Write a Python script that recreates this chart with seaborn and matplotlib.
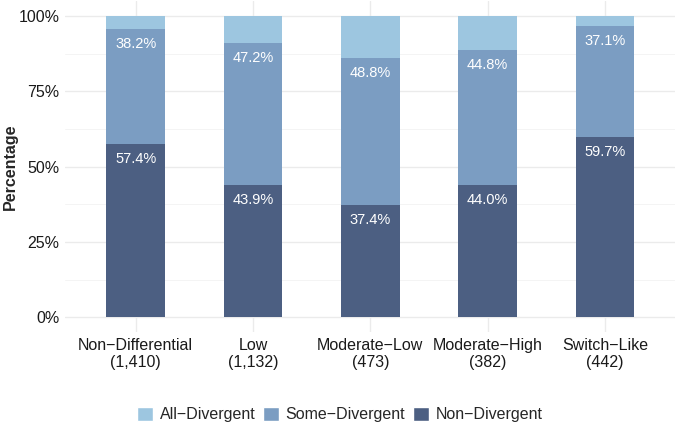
import pandas as pd
import numpy as np
import matplotlib
matplotlib.use("Agg")
import matplotlib.pyplot as plt
import seaborn as sns
from matplotlib.patches import Patch
from matplotlib.ticker import MultipleLocator, FuncFormatter

# Data
categories = ["Non\u2212Differential\n(1,410)", "Low\n(1,132)", "Moderate\u2212Low\n(473)",
              "Moderate\u2212High\n(382)", "Switch\u2212Like\n(442)"]
non_divergent = [57.4, 43.9, 37.4, 44.0, 59.7]
some_divergent = [38.2, 47.2, 48.8, 44.8, 37.1]
all_divergent = [4.4, 8.9, 13.8, 11.2, 3.2]

colors = {"All\u2212Divergent": "#9DC6E0",
          "Some\u2212Divergent": "#7B9DC2",
          "Non\u2212Divergent": "#4C5F82"}

df = pd.DataFrame({"category": categories,
                   "non": non_divergent,
                   "some": some_divergent,
                   "all": all_divergent})
df["cum_some"] = df["non"] + df["some"]
df["cum_all"] = df["cum_some"] + df["all"]

sns.set_style("whitegrid")
plt.rcParams["font.family"] = ["Liberation Sans", "DejaVu Sans"]

fig = plt.figure(figsize=(6.8, 4.25), dpi=100)
ax = fig.add_axes([0.096, 0.218, 0.897, 0.78])

# layered bars (tallest first)
sns.barplot(data=df, x="category", y="cum_all", color=colors["All\u2212Divergent"],
            width=0.5, ax=ax, saturation=1, edgecolor="none")
sns.barplot(data=df, x="category", y="cum_some", color=colors["Some\u2212Divergent"],
            width=0.5, ax=ax, saturation=1, edgecolor="none")
sns.barplot(data=df, x="category", y="non", color=colors["Non\u2212Divergent"],
            width=0.5, ax=ax, saturation=1, edgecolor="none")

# labels near the top of each segment
for i, row in df.iterrows():
    ax.text(i, row["non"] - 5, f"{row['non']:.1f}%", ha="center", va="center",
            color="white", fontsize=10.5)
    ax.text(i, row["cum_some"] - 5, f"{row['some']:.1f}%", ha="center", va="center",
            color="white", fontsize=10.5)

ax.set_xlim(-0.6, 4.6)
ax.set_ylim(-5, 105)
ax.yaxis.set_major_locator(MultipleLocator(25))
ax.yaxis.set_minor_locator(MultipleLocator(12.5))
ax.yaxis.set_major_formatter(FuncFormatter(lambda v, p: f"{v:.0f}%"))
ax.set_axisbelow(True)
ax.grid(True, which="major", color="#EBEBEB", linewidth=1.0)
ax.grid(True, which="minor", axis="y", color="#F2F2F2", linewidth=0.6)
for s in ax.spines.values():
    s.set_visible(False)
ax.tick_params(axis="both", which="both", length=0, labelsize=11.5, colors="#1A1A1A", pad=4)
ax.tick_params(axis="x", pad=4)
ax.set_xlabel("")
ax.set_ylabel("Percentage", fontsize=11.5, fontweight="bold", va="center")
ax.yaxis.set_label_coords(-0.09, 0.5)

handles = [Patch(facecolor=c, label=k) for k, c in colors.items()]
fig.legend(handles=handles, loc="center", bbox_to_anchor=(0.5, 0.025), ncol=3,
           frameon=False, fontsize=11.5, handlelength=1.0, handleheight=1.0,
           handletextpad=0.4, columnspacing=0.5)

fig.savefig("out.png", dpi=100)
